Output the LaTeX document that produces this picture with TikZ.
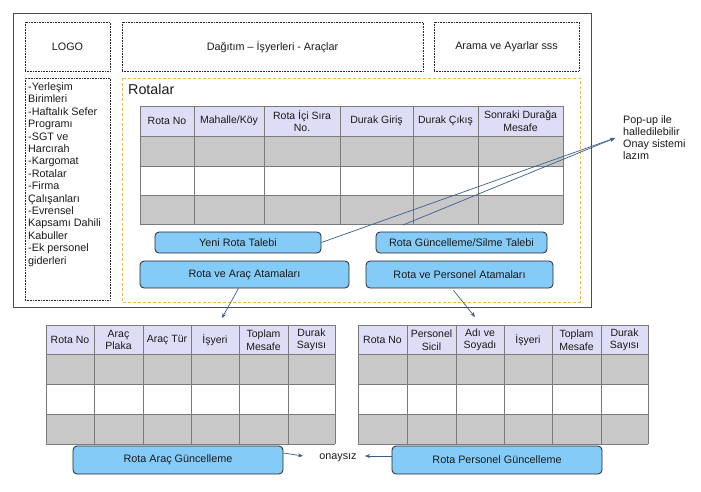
\documentclass[tikz,border=0pt]{standalone}
\usepackage{fontspec}
\setmainfont{Liberation Sans}
\usetikzlibrary{arrows.meta}
\definecolor{hdr}{HTML}{DDDDF6}
\definecolor{gry}{HTML}{C8C8C8}
\definecolor{gridc}{HTML}{7A7A7A}
\definecolor{btn}{HTML}{84CBF7}
\definecolor{arr}{HTML}{3B5E8C}
\definecolor{orng}{HTML}{F2B84B}
\definecolor{frame}{HTML}{4A4A55}
\definecolor{txt}{HTML}{1A1A1A}
\tikzset{
  dotbox/.style={draw=black!85, densely dotted, line width=0.6pt, inner sep=0pt},
  btnbox/.style={draw=black!85, fill=btn, rounded corners=4pt, line width=0.8pt, inner sep=0pt},
  hdrtext/.style={align=center, inner sep=0pt, font=\fontsize{10.5}{12.5}\selectfont},
  conn/.style={draw=arr, line width=0.7pt, -{Stealth[length=5pt,width=4pt]}},
  gridline/.style={draw=gridc, line width=0.9pt},
}
\begin{document}
\begin{tikzpicture}[x=1pt,y=-1pt,font=\fontsize{10.8}{12.4}\selectfont,text=txt]
\useasboundingbox (0,0) rectangle (701,491);
% outer frame
\draw[frame, line width=0.9pt] (13,13) rectangle (591,307);
% top boxes
\node[dotbox, minimum width=85pt, minimum height=49pt] (logo) at (67.5,46.5) {LOGO};
\node[dotbox, minimum width=301pt, minimum height=49pt] (menu) at (272.5,46.5) {Dağıtım – İşyerleri - Araçlar};
\node[dotbox, minimum width=145pt, minimum height=49pt] (arama) at (506.5,46.5) {Arama ve Ayarlar sss};
% left list
\node[dotbox, minimum width=85pt, minimum height=222pt] (listbox) at (67.5,189) {};
\node[anchor=north west, align=left, inner sep=0pt] (list) at (28,82.5) {-Yerleşim\\Birimleri\\-Haftalık Sefer\\Programı\\-SGT ve\\Harcırah\\-Kargomat\\-Rotalar\\-Firma\\Çalışanları\\-Evrensel\\Kapsamı Dahili\\Kabuller\\-Ek personel\\giderleri};
% orange dashed area
\draw[orng, line width=1pt, dash pattern=on 3pt off 2pt] (122,78) rectangle (580,302);
\node[anchor=west, inner sep=0pt, font=\fontsize{14.3}{16}\selectfont] (rotalar) at (128,89) {Rotalar};
% top table
\fill[hdr] (140,106) rectangle (563,136);
\fill[gry] (140,136) rectangle (563,166);
\fill[white] (140,166) rectangle (563,195);
\fill[gry] (140,195) rectangle (563,224);
\foreach \x in {140,194,264,340,413,478,563} \draw[gridline] (\x,106) -- (\x,224);
\foreach \y in {106,136,166,195,224} \draw[gridline] (140,\y) -- (563,\y);
\node[hdrtext] (t1) at (167,121) {Rota No};
\node[hdrtext] (t2) at (229,121) {Mahalle/Köy};
\node[hdrtext] (t3) at (302,121) {Rota İçi Sıra\\No.};
\node[hdrtext] (t4) at (376.5,121) {Durak Giriş};
\node[hdrtext] (t5) at (445.5,121) {Durak Çıkış};
\node[hdrtext] (t6) at (520.5,121) {Sonraki Durağa\\Mesafe};
% buttons
\node[btnbox, minimum width=166pt, minimum height=21pt] (yeni) at (238,242.5) {Yeni Rota Talebi};
\node[btnbox, minimum width=171pt, minimum height=21pt] (guncel) at (461.5,242.5) {Rota Güncelleme/Silme Talebi};
\node[btnbox, minimum width=209pt, minimum height=27pt] (arac) at (244.5,274.5) {Rota ve Araç Atamaları};
\node[btnbox, minimum width=187pt, minimum height=27pt] (pers) at (459.5,274.5) {Rota ve Personel Atamaları};
% popup note
\node[anchor=north west, align=left, inner sep=0pt, font=\fontsize{10.8}{12}\selectfont] (popup) at (623,115) {Pop-up ile\\halledilebilir\\Onay sistemi\\lazım};
\coordinate (ptip) at (615,138);
\coordinate (gstart) at (403,225);
\draw[conn] (yeni.east) -- (ptip);
\draw[conn] (gstart) -- (ptip);
% bottom left table
\fill[hdr] (46,325) rectangle (335,354);
\fill[gry] (46,354) rectangle (335,384);
\fill[white] (46,384) rectangle (335,414);
\fill[gry] (46,414) rectangle (335,444);
\foreach \x in {46,94,143,191,239,288,335} \draw[gridline] (\x,325) -- (\x,444);
\foreach \y in {325,354,384,414,444} \draw[gridline] (46,\y) -- (335,\y);
\node[hdrtext] (a1) at (70,340) {Rota No};
\node[hdrtext] (a2) at (118.5,340) {Araç\\Plaka};
\node[hdrtext] (a3) at (167,340) {Araç Tür};
\node[hdrtext] (a4) at (215,340) {İşyeri};
\node[hdrtext] (a5) at (263.5,340) {Toplam\\Mesafe};
\node[hdrtext] (a6) at (311.5,340) {Durak\\Sayısı};
% bottom right table
\fill[hdr] (358,325) rectangle (648,354);
\fill[gry] (358,354) rectangle (648,384);
\fill[white] (358,384) rectangle (648,414);
\fill[gry] (358,414) rectangle (648,444);
\foreach \x in {358,407,456,504,552,601,648} \draw[gridline] (\x,325) -- (\x,444);
\foreach \y in {325,354,384,414,444} \draw[gridline] (358,\y) -- (648,\y);
\node[hdrtext] (p1) at (382.5,340) {Rota No};
\node[hdrtext] (p2) at (431.5,340) {Personel\\Sicil};
\node[hdrtext] (p3) at (480,340) {Adı ve\\Soyadı};
\node[hdrtext] (p4) at (528,340) {İşyeri};
\node[hdrtext] (p5) at (576.5,340) {Toplam\\Mesafe};
\node[hdrtext] (p6) at (624.5,340) {Durak\\Sayısı};
% arrows to bottom tables
\coordinate (atip) at (222,318);
\coordinate (ptip2) at (475,317);
\draw[conn] ([xshift=-6pt]arac.south) -- (atip);
\draw[conn] ([xshift=-6pt,yshift=-2pt]pers.south) -- (ptip2);
% bottom buttons
\node[btnbox, minimum width=210pt, minimum height=28pt] (aracg) at (178,460) {Rota Araç Güncelleme};
\node[btnbox, minimum width=210pt, minimum height=28pt] (persg) at (497,460) {Rota Personel Güncelleme};
\node[inner sep=0pt] (onay) at (338,458) {onaysız};
\coordinate (o1) at (303,456);
\coordinate (o2) at (365,456);
\draw[conn] ([yshift=7pt]aracg.east) -- (o1);
\draw[conn] ([yshift=4pt]persg.west) -- (o2);
\end{tikzpicture}
\end{document}
